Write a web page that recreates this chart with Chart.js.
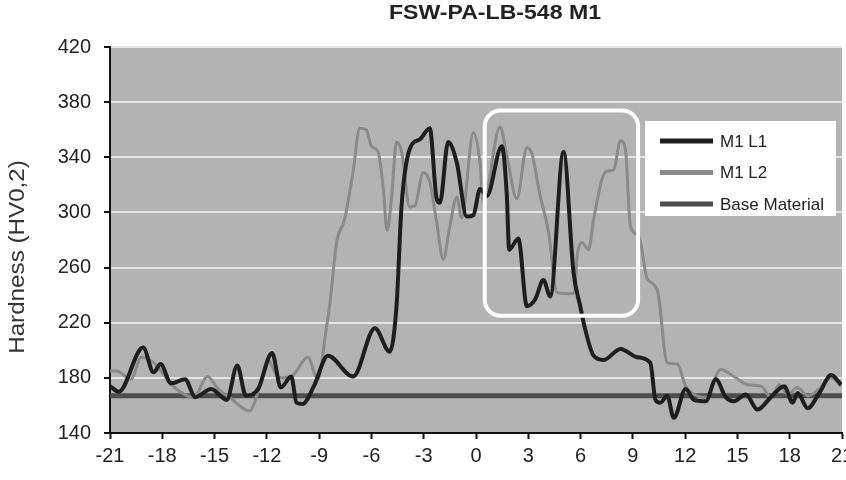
<!DOCTYPE html>
<html>
<head>
<meta charset="utf-8">
<script src="https://cdn.jsdelivr.net/npm/chart.js@4.4.0/dist/chart.umd.min.js"></script>
<style>
  html, body { margin: 0; padding: 0; background: #fff; overflow: hidden; }
  #wrap { width: 846px; height: 480px; }
</style>
</head>
<body>
<div id="wrap"><canvas id="chart" width="846" height="480"></canvas></div>
<script>
// hardness profile, distance (mm) vs HV0,2
var l1X = [-21, -20.5, -19.1, -18.5, -18.1, -17.5, -16.7, -16.1, -15.2, -14.3, -13.7, -13.2, -12.5, -11.7, -11.2, -10.6, -10.3, -9.95, -9.3, -8.5, -7.05, -5.8, -4.95, -4.56, -4.27, -3.8, -3.22, -2.65, -2.26, -2.07, -1.6, -1.1, -0.53, -0.15, 0.23, 0.62, 1.48, 1.77, 1.9, 2.43, 2.92, 3.4, 3.87, 4.26, 5.02, 5.6, 5.98, 6.27, 6.75, 7.33, 8.29, 9.25, 10.0, 10.3, 10.58, 10.97, 11.35, 12.03, 12.5, 13.18, 13.76, 14.33, 14.8, 15.48, 16.15, 16.92, 17.68, 18.17, 18.45, 19.03, 19.7, 20.38, 20.95];
var l1Y = [174, 170, 202, 184, 190, 176, 179, 166, 172, 164, 189, 167, 172, 198, 173, 181, 162, 161, 174, 196, 181, 216, 199, 232, 305, 346, 353, 361, 310, 307, 351, 336, 297, 298, 317, 312, 348, 312, 273, 281, 232, 237, 251, 239, 344, 256, 232, 215, 196, 193, 201, 195, 191, 164, 162, 167, 151, 172, 164, 163, 179, 166, 163, 168, 157, 166, 174, 162, 169, 158, 169, 182, 175];

var l2X = [-21, -20.6, -19.8, -19.2, -18.5, -17.9, -17.3, -16.2, -15.4, -14.8, -14.15, -13.0, -12.4, -11.95, -11.3, -10.6, -9.65, -9.07, -8.6, -8.4, -8.0, -7.54, -7.06, -6.67, -6.3, -6.0, -5.62, -5.33, -5.1, -4.85, -4.56, -4.27, -3.8, -3.5, -3.03, -2.65, -2.26, -1.88, -1.5, -1.11, -0.82, -0.15, 0.23, 0.42, 1.38, 1.77, 2.34, 2.92, 3.2, 3.68, 4.16, 4.64, 5.4, 5.64, 5.8, 6.08, 6.46, 6.75, 7.23, 7.52, 7.9, 8.29, 8.57, 8.86, 9.34, 9.82, 10.4, 10.97, 11.55, 12.03, 12.7, 13.23, 14.03, 14.8, 15.58, 16.35, 16.92, 17.4, 17.88, 18.45, 19.03, 19.6, 20.38, 20.95];
var l2Y = [185, 185, 179, 195, 191, 182, 173, 166, 181, 172, 166, 156, 174, 193, 180, 181, 195, 179, 215, 232, 278, 295, 329, 361, 360, 348, 344, 319, 287, 310, 351, 344, 304, 305, 329, 322, 293, 266, 290, 311, 296, 358, 336, 307, 362, 341, 310, 347, 343, 312, 286, 242, 241, 242, 268, 278, 273, 295, 324, 330, 331, 352, 346, 290, 283, 252, 244, 191, 190, 174, 167, 166, 186, 181, 175, 174, 166, 175, 168, 173, 167, 171, 180, 174];

var baseX = [-21, 21];
var baseY = [167, 167];

var seriesNames = ["M1 L1", "M1 L2", "Base Material"];
var titleText = "FSW-PA-LB-548 M1";
var yTitle = "Hardness (HV0,2)";

// highlighted zone (data units)
var boxX = [0.5, 9.3];
var boxY = [225, 374];

function toPoints(xs, ys){
  var pts = [];
  for (var i = 0; i < xs.length; i++){
    pts.push({x: xs[i], y: ys[i]});
  }
  return pts;
}

var fontFam = "'Liberation Sans', Arial, sans-serif";

var decor = {
  id: 'decor',
  beforeDraw: function(chart){
    var ctx = chart.ctx, a = chart.chartArea;
    ctx.save();
    ctx.fillStyle = '#fff';
    ctx.fillRect(0, 0, chart.width, chart.height);
    ctx.fillStyle = '#b3b3b3';
    ctx.fillRect(a.left, a.top, a.right - a.left, a.bottom - a.top);
    ctx.restore();
  },
  afterDatasetsDraw: function(chart){
    var ctx = chart.ctx;
    var xs = chart.scales.x, ys = chart.scales.y;
    // white rounded box
    var x0 = xs.getPixelForValue(boxX[0]), x1 = xs.getPixelForValue(boxX[1]);
    var y0 = ys.getPixelForValue(boxY[1]), y1 = ys.getPixelForValue(boxY[0]);
    ctx.save();
    ctx.strokeStyle = '#ffffff';
    ctx.lineWidth = 4;
    ctx.beginPath();
    ctx.roundRect(x0, y0, x1 - x0, y1 - y0, 16);
    ctx.stroke();

    // legend
    var lx = 645, ly = 121, lw = 191, lh = 95;
    ctx.fillStyle = '#ffffff';
    ctx.fillRect(lx, ly, lw, lh);
    ctx.font = '17px ' + fontFam;
    ctx.textBaseline = 'middle';
    chart.data.datasets.forEach(function(ds, i){
      var yy = 141 + i * 31.5;
      ctx.strokeStyle = ds.borderColor;
      ctx.lineWidth = 5;
      ctx.beginPath();
      ctx.moveTo(660, yy);
      ctx.lineTo(713, yy);
      ctx.stroke();
      ctx.fillStyle = '#222';
      ctx.fillText(ds.label, 720, yy + 1);
    });

    // title (slightly stretched like the original)
    ctx.save();
    ctx.fillStyle = '#222';
    ctx.font = 'bold 21px ' + fontFam;
    ctx.textAlign = 'center';
    ctx.translate(495, 13);
    ctx.scale(1.1, 1);
    ctx.fillText(titleText, 0, 0);
    ctx.restore();

    // y axis title
    ctx.translate(18, 257);
    ctx.rotate(-Math.PI / 2);
    ctx.scale(1.1, 1);
    ctx.textAlign = 'center';
    ctx.font = '22px ' + fontFam;
    ctx.fillStyle = '#333';
    ctx.fillText(yTitle, 0, 0);
    ctx.restore();
  }
};

var chart = new Chart(document.getElementById('chart'), {
  type: 'line',
  data: {
    datasets: [
      {
        label: seriesNames[0],
        data: toPoints(l1X, l1Y),
        borderColor: '#1e1e1e',
        borderWidth: 4,
        pointRadius: 0,
        cubicInterpolationMode: 'monotone'
      },
      {
        label: seriesNames[1],
        data: toPoints(l2X, l2Y),
        borderColor: '#8a8a8a',
        borderWidth: 3,
        pointRadius: 0,
        cubicInterpolationMode: 'monotone'
      },
      {
        label: seriesNames[2],
        data: toPoints(baseX, baseY),
        borderColor: '#4d4d4d',
        borderWidth: 5,
        pointRadius: 0
      }
    ]
  },
  options: {
    responsive: false,
    animation: false,
    layout: { padding: { left: 0, right: 4, top: 47, bottom: 0 } },
    plugins: {
      legend: { display: false },
      title: { display: false },
      tooltip: { enabled: false }
    },
    scales: {
      x: {
        type: 'linear',
        min: -21,
        max: 21,
        border: { color: '#111', width: 2 },
        grid: { drawOnChartArea: false, tickColor: '#111', tickLength: 6, tickWidth: 2 },
        ticks: { stepSize: 3, padding: 5, color: '#222', font: { family: fontFam, size: 20 } },
        afterFit: function(scale){
          scale.height = 47;
          scale.paddingLeft = 0;
          scale.paddingRight = 0;
        }
      },
      y: {
        min: 140,
        max: 420,
        border: { color: '#111', width: 2 },
        grid: { color: '#e4e4e4', lineWidth: 2, tickColor: '#111', tickLength: 6, tickWidth: 2 },
        ticks: { stepSize: 40, padding: 13, color: '#222', font: { family: fontFam, size: 20 } },
        afterFit: function(scale){
          scale.width = 110;
          scale.paddingTop = 0;
          scale.paddingBottom = 0;
        }
      }
    }
  },
  plugins: [decor]
});
</script>
</body>
</html>
